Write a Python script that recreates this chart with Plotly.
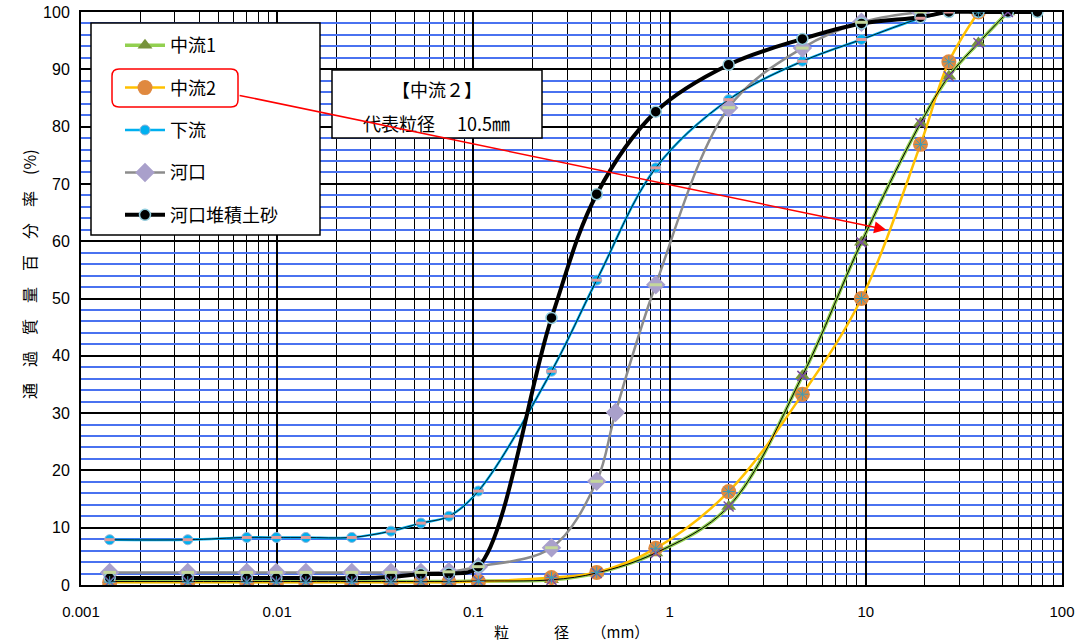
import math
import plotly.graph_objects as go

# ---------------- data ----------------
hydro_x = [0.0014, 0.0035, 0.0070, 0.0099, 0.014, 0.024, 0.038, 0.054, 0.075, 0.106]

chu1_x = hydro_x + [0.25, 0.425, 0.85, 2, 4.75, 9.5, 19, 26.5, 37.5, 53]
chu1_y = [0.6, 0.6, 0.6, 0.6, 0.6, 0.6, 0.6, 0.6, 0.6, 0.7,
          0.9, 2.1, 5.6, 13.7, 36.5, 59.8, 80.6, 88.8, 94.6, 100]

chu2_x = hydro_x + [0.25, 0.425, 0.85, 2, 4.75, 9.5, 19, 26.5, 37.5]
chu2_y = [0.5, 0.5, 0.5, 0.5, 0.5, 0.5, 0.5, 0.5, 0.5, 0.6,
          1.3, 2.2, 6.4, 16.3, 33.3, 50.0, 76.9, 91.3, 100]

karyu_x = hydro_x + [0.25, 0.425, 0.85, 2, 4.75, 9.5, 19, 26.5]
karyu_y = [7.9, 7.9, 8.3, 8.3, 8.3, 8.3, 9.4, 10.8, 12.0, 16.4,
           37.3, 53.2, 72.8, 84.7, 91.4, 95.2, 98.9, 100]

kako_x = hydro_x + [0.25, 0.425, 0.53, 0.85, 2, 4.75, 9.5, 19]
kako_y = [2.2, 2.2, 2.2, 2.2, 2.2, 2.2, 2.2, 2.2, 2.3, 3.2,
          6.5, 18.1, 30.1, 52.4, 83.3, 93.7, 98.2, 100]

taiseki_x = hydro_x + [0.25, 0.425, 0.85, 2, 4.75, 9.5, 19, 26.5, 37.5, 53, 75]
taiseki_y = [1.2, 1.2, 1.2, 1.2, 1.2, 1.2, 1.4, 1.9, 2.0, 3.2,
             46.6, 68.2, 82.6, 90.8, 95.3, 98.0, 99.1, 100, 100, 100, 100]

x_tickvals = [0.001, 0.01, 0.1, 1, 10, 100]
x_ticktext = ["0.001", "0.01", "0.1", "1", "10", "100"]

series_names = ["中流1", "中流2", "下流", "河口", "河口堆積土砂"]

# ---------------- figure ----------------
JP = "Noto Sans CJK JP"
NUM = "Liberation Sans"

fig = go.Figure()

fig.add_trace(go.Scatter(
    x=chu1_x, y=chu1_y, name=series_names[0], legendgroup="g1",
    mode="lines+markers", line=dict(color="#92D050", width=3.5, shape="spline"),
    marker=dict(symbol="triangle-up", size=13, color="#77933C")))
fig.add_trace(go.Scatter(
    x=chu2_x, y=chu2_y, name=series_names[1], legendgroup="g2",
    mode="lines+markers", line=dict(color="#FFC000", width=2.5, shape="spline"),
    marker=dict(symbol="circle", size=15, color="#E0893F")))
fig.add_trace(go.Scatter(
    x=karyu_x, y=karyu_y, name=series_names[2], legendgroup="g3",
    mode="lines+markers", line=dict(color="#00B0F0", width=2.5, shape="spline"),
    marker=dict(symbol="circle", size=10, color="#00B0F0",
                line=dict(color="#95B3D7", width=1))))
fig.add_trace(go.Scatter(
    x=kako_x, y=kako_y, name=series_names[3], legendgroup="g4",
    mode="lines+markers", line=dict(color="#8C8C8C", width=2.5, shape="spline"),
    marker=dict(symbol="diamond", size=15, color="#A9A0CB")))
fig.add_trace(go.Scatter(
    x=taiseki_x, y=taiseki_y, name=series_names[4], legendgroup="g5",
    mode="lines+markers", line=dict(color="#000000", width=4, shape="spline"),
    marker=dict(symbol="circle", size=11, color="#000000",
                line=dict(color="#93CDDD", width=1.5))))

# companion overlay marks (no legend entries)
fig.add_trace(go.Scatter(
    x=chu1_x, y=chu1_y, showlegend=False, hoverinfo="skip",
    mode="lines+markers", line=dict(color="#000000", width=1, shape="spline"),
    marker=dict(symbol="x-thin-open", size=10, color="#7A4FA0",
                line=dict(color="#7A4FA0", width=1.5))))
fig.add_trace(go.Scatter(
    x=chu2_x, y=chu2_y, showlegend=False, hoverinfo="skip", mode="markers",
    marker=dict(symbol="asterisk-open", size=10, color="#3C9CB8",
                line=dict(color="#3C9CB8", width=1))))
fig.add_trace(go.Scatter(
    x=karyu_x, y=karyu_y, showlegend=False, hoverinfo="skip",
    mode="lines+markers", line=dict(color="#000000", width=0.8, shape="spline"),
    marker=dict(symbol="line-ew-open", size=7, color="#E09A9A",
                line=dict(color="#E09A9A", width=3))))
kako_cx = [v for v in kako_x if v != 0.53]
kako_cy = [kako_y[i] for i, v in enumerate(kako_x) if v != 0.53]
fig.add_trace(go.Scatter(
    x=kako_cx, y=kako_cy, showlegend=False, hoverinfo="skip", mode="markers",
    marker=dict(symbol="line-ew-open", size=9, color="#C4D79B",
                line=dict(color="#C4D79B", width=3))))

# plot area pixel geometry helpers (for boxes in paper coords)
L, R, T, B = 81, 1062, 12, 585
PW, PH = R - L, B - T
def px(xp):
    return (xp - L) / PW
def py(yp):
    return (B - yp) / PH

shapes = []
# legend box
shapes.append(dict(type="rect", xref="paper", yref="paper",
                   x0=px(91), x1=px(320), y0=py(235), y1=py(23),
                   fillcolor="white", line=dict(color="black", width=1.5), layer="above"))
# annotation box
shapes.append(dict(type="rect", xref="paper", yref="paper",
                   x0=px(332), x1=px(542), y0=py(138), y1=py(70),
                   fillcolor="white", line=dict(color="black", width=1.5), layer="above"))
# red rounded rectangle around legend item
rx0, rx1, ry0, ry1, rr = px(112), px(238), py(107), py(69), 7
dx, dy = rr / PW, rr / PH
path = (f"M {rx0+dx},{ry1} L {rx1-dx},{ry1} Q {rx1},{ry1} {rx1},{ry1-dy} "
        f"L {rx1},{ry0+dy} Q {rx1},{ry0} {rx1-dx},{ry0} L {rx0+dx},{ry0} "
        f"Q {rx0},{ry0} {rx0},{ry0+dy} L {rx0},{ry1-dy} Q {rx0},{ry1} {rx0+dx},{ry1} Z")
shapes.append(dict(type="path", xref="paper", yref="paper", path=path,
                   line=dict(color="#FF0000", width=1.5), layer="above"))

annotations = [
    dict(xref="paper", yref="paper", x=px(437), y=py(89), text="【中流２】",
         xanchor="center", yanchor="middle",
         showarrow=False, font=dict(family=JP, size=18, color="black")),
    dict(xref="paper", yref="paper", x=px(436), y=py(123), text="代表粒径　 10.5㎜",
         xanchor="center", yanchor="middle",
         showarrow=False, font=dict(family=JP, size=18, color="black")),
    dict(x=math.log10(12.7), y=62, ax=math.log10(0.00632), ay=85.5,
         xref="x", yref="y", axref="x", ayref="y", text="", showarrow=True,
         arrowhead=2, arrowsize=1.6, arrowwidth=1.5, arrowcolor="#FF0000", standoff=0),
    dict(xref="paper", yref="paper", x=0.5, y=py(632), text="粒　　　径　　（mm）",
         xanchor="center", yanchor="middle",
         showarrow=False, font=dict(family=JP, size=15, color="black")),
    dict(xref="paper", yref="paper", x=px(29), y=py(274), text="通　過　質　量　百　分　率　(%)",
         xanchor="center", yanchor="middle",
         textangle=-90, showarrow=False, font=dict(family=JP, size=16, color="black")),
]

fig.update_layout(
    width=1085, height=643, autosize=False,
    margin=dict(l=L, r=1085 - R, t=T, b=643 - B, pad=0),
    paper_bgcolor="white", plot_bgcolor="white",
    shapes=shapes, annotations=annotations,
    showlegend=True,
    legend=dict(x=px(120), y=py(27), xanchor="left", yanchor="top",
                bgcolor="rgba(0,0,0,0)", borderwidth=0,
                traceorder="grouped", tracegroupgap=16, itemwidth=40,
                font=dict(family=JP, size=18, color="black")),
)

fig.update_xaxes(
    type="log", range=[-3, 2], tickvals=x_tickvals, ticktext=x_ticktext,
    showgrid=True, gridcolor="black", gridwidth=1.5,
    minor=dict(dtick="D1", showgrid=True, gridcolor="black", gridwidth=1.4, ticks=""),
    showline=True, linecolor="black", linewidth=2, mirror=True,
    ticks="", ticklabelstandoff=12, automargin=False,
    tickfont=dict(family=NUM, size=15, color="black"), zeroline=False)
fig.update_yaxes(
    range=[0, 100], dtick=10, showgrid=True, gridcolor="black", gridwidth=1.5,
    minor=dict(dtick=2, showgrid=True, gridcolor="#4A72F0", gridwidth=1.5, ticks=""),
    showline=True, linecolor="black", linewidth=2, mirror=True,
    ticks="", ticklabelstandoff=6, automargin=False,
    tickfont=dict(family=NUM, size=16, color="black"), zeroline=False)

fig.write_html("out.html", config={"displayModeBar": False},
               post_script="document.body.style.margin='0';")
